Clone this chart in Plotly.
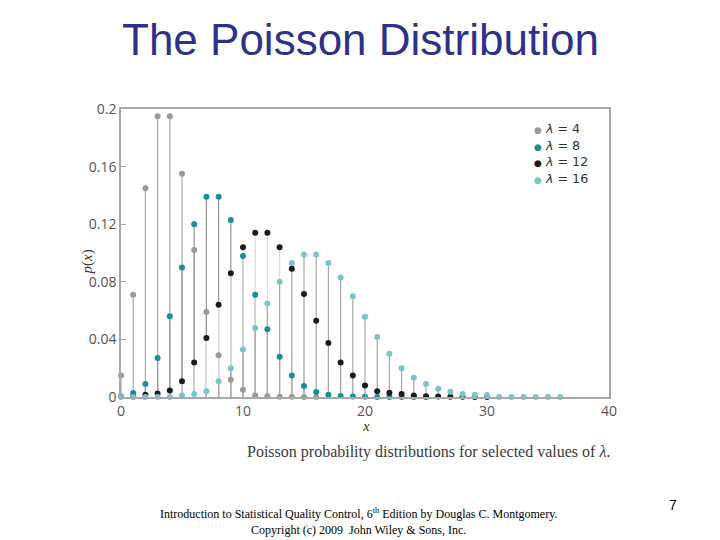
import plotly.graph_objects as go

# values
x_l4 = list(range(0, 17))
p_l4 = [0.015, 0.071, 0.145, 0.195, 0.195, 0.155, 0.102, 0.059, 0.029, 0.012,
        0.005, 0.001, 0.0005, 0.0002, 0.0001, 0.0, 0.0]

x_l8 = list(range(0, 26))
p_l8 = [0.0003, 0.0027, 0.009, 0.027, 0.056, 0.090, 0.120, 0.139, 0.139, 0.123,
        0.098, 0.071, 0.047, 0.028, 0.015, 0.0076, 0.0035, 0.0015, 0.0007, 0.0003,
        0.0001, 0.0, 0.0, 0.0, 0.0, 0.0]

x_l12 = list(range(1, 31))
p_l12 = [0.0001, 0.0015, 0.0025, 0.0045, 0.011, 0.024, 0.041, 0.064, 0.086, 0.104,
         0.114, 0.114, 0.104, 0.089, 0.0715, 0.053, 0.0375, 0.024, 0.015, 0.008,
         0.004, 0.003, 0.002, 0.001, 0.0006, 0.0004, 0.0002, 0.0001, 0.0, 0.0]

x_l16 = list(range(0, 37))
p_l16 = [0.0, 0.0, 0.0, 0.0, 0.0, 0.001, 0.002, 0.004, 0.011, 0.020,
         0.033, 0.048, 0.065, 0.080, 0.093, 0.099, 0.099, 0.093, 0.083, 0.070,
         0.0557, 0.0417, 0.030, 0.020, 0.0134, 0.009, 0.0058, 0.0037, 0.0021, 0.0015,
         0.0012, 0.0, 0.0, 0.0, 0.0, 0.0, 0.0]

lambdas = ["4", "8", "12", "16"]
xs = [x_l4, x_l8, x_l12, x_l16]
ps = [p_l4, p_l8, p_l12, p_l16]
dot_colors = ["#9a9a9a", "#1b8f96", "#1c1c1c", "#7dc3cb"]
stem_colors = ["#a8a8a8", "#969696", "#dcdcdc", "#a8a8a8"]

y_ticks = [0, 0.04, 0.08, 0.12, 0.16, 0.2]
y_ticktext = ["0", "0.04", "0.08", "0.12", "0.16", "0.2"]
x_ticks = [0, 10, 20, 30, 40]

fig = go.Figure()

# vertical stems
for x, p, c in zip(xs, ps, stem_colors):
    sx, sy = [], []
    for xi, pi in zip(x, p):
        sx += [xi, xi, None]
        sy += [0, pi, None]
    fig.add_trace(go.Scatter(x=sx, y=sy, mode="lines",
                             line=dict(color=c, width=1.2),
                             showlegend=False, hoverinfo="skip"))

# dots
for x, p, c, lam in zip(xs, ps, dot_colors, lambdas):
    fig.add_trace(go.Scatter(x=x, y=p, mode="markers", name="λ = " + lam,
                             marker=dict(color=c, size=6),
                             cliponaxis=False, showlegend=False))

# legend drawn as a text block (tight line spacing like the book figure)
legend_text = "<br>".join(
    f'<span style="color:{c};font-size:9px">●</span> <i>λ</i> = {lam}'
    for c, lam in zip(dot_colors, lambdas))

axis_style = dict(showline=True, mirror=True, linecolor="#a8a8a8", linewidth=1.5,
                  showgrid=False, zeroline=False, ticks="inside", ticklen=5,
                  tickcolor="#a8a8a8",
                  tickfont=dict(family="Open Sans", size=14, color="#555555"))

fig.update_xaxes(range=[0, 40], tickvals=x_ticks, **axis_style)
fig.update_yaxes(range=[0, 0.2], tickvals=y_ticks, ticktext=y_ticktext, **axis_style)

fig.update_layout(
    width=720, height=540,
    # page body adds an 8px offset, margins compensate
    margin=dict(l=113, r=119, t=101, b=151),
    paper_bgcolor="white", plot_bgcolor="white",
    annotations=[
        dict(text="The Poisson Distribution", x=0.49, y=1.24, xref="paper", yref="paper",
             xanchor="center", yanchor="middle", showarrow=False,
             font=dict(family="Liberation Sans", size=44, color="#2e3189")),
        dict(text=legend_text, x=0.843, y=0.965, xref="paper", yref="paper",
             xanchor="left", yanchor="top", align="left", showarrow=False,
             font=dict(family="DejaVu Sans", size=12.7, color="#333333")),
        dict(text="<i>p</i>(<i>x</i>)", x=-0.068, y=0.47, xref="paper", yref="paper",
             xanchor="center", yanchor="middle", textangle=-90, showarrow=False,
             font=dict(family="Liberation Serif", size=15, color="#333333")),
        dict(text="<i>x</i>", x=0.502, y=-0.1, xref="paper", yref="paper",
             xanchor="center", yanchor="middle", showarrow=False,
             font=dict(family="Liberation Serif", size=15, color="#333333")),
        dict(text="Poisson probability distributions for selected values of <i>λ</i>.",
             x=1.006, y=-0.191, xref="paper", yref="paper", xanchor="right",
             yanchor="middle", showarrow=False,
             font=dict(family="Liberation Serif", size=16, color="#3a3a3a")),
        dict(text="Introduction to Statistical Quality Control, 6<sup>th</sup> Edition by Douglas C. Montgomery.<br>"
                  "Copyright (c) 2009  John Wiley &amp; Sons, Inc.",
             x=0.486, y=-0.434, xref="paper", yref="paper", xanchor="center",
             yanchor="middle", showarrow=False, align="center",
             font=dict(family="Liberation Serif", size=12, color="#000000")),
        dict(text="7", x=1.131, y=-0.375, xref="paper", yref="paper",
             xanchor="center", yanchor="middle", showarrow=False,
             font=dict(family="Liberation Sans", size=14, color="#000000")),
    ],
)

fig.write_html("out.html")
